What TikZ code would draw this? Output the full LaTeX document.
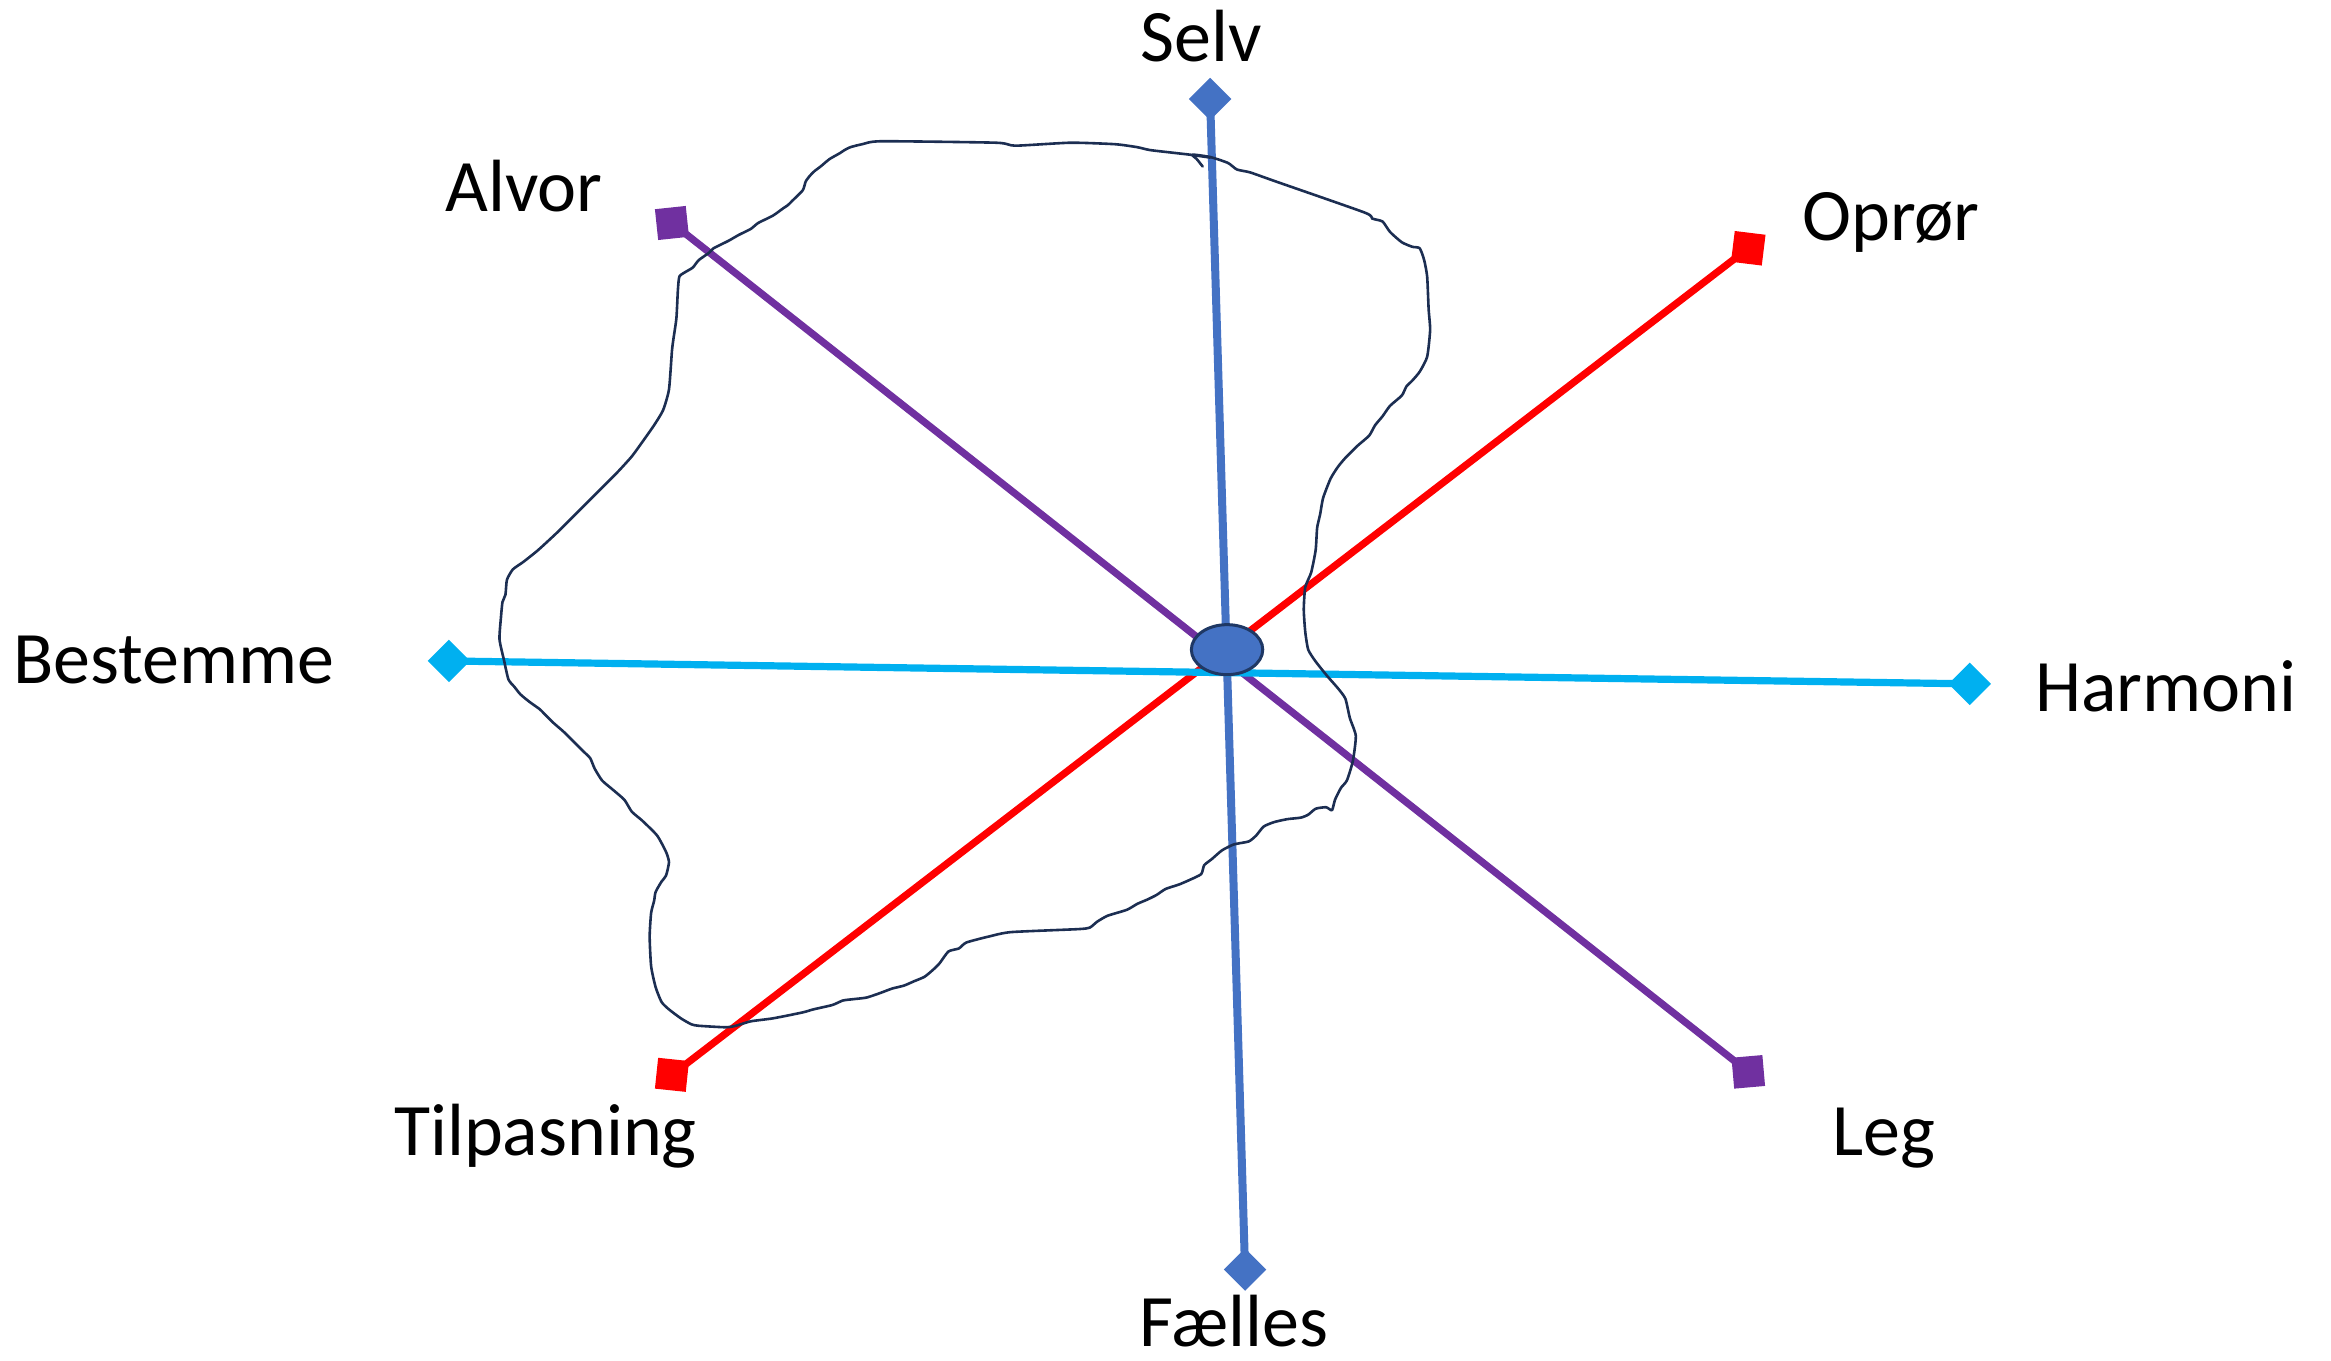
\documentclass[tikz,border=0pt]{standalone}
\usepackage{fontspec}
\setmainfont{Carlito}
\usetikzlibrary{shapes.geometric}
\definecolor{cblue}{HTML}{4472C4}
\definecolor{ccyan}{HTML}{00B0F0}
\definecolor{cred}{HTML}{FF0000}
\definecolor{cpurple}{HTML}{7030A0}
\definecolor{cnavy}{HTML}{1C2E52}
\definecolor{cedge}{HTML}{1F3864}
\tikzset{
  axis/.style={line width=3.6pt},
  sqmark/.style={rectangle, minimum size=15.5pt, inner sep=0pt, fill=#1},
  dmmark/.style={rectangle, minimum size=15pt, inner sep=0pt, rotate=45, fill=#1},
  lbl/.style={anchor=base, font=\fontsize{37}{40}\selectfont, inner sep=0pt},
  scribble/.style={draw=cnavy, line width=1.3pt, line join=round, line cap=round}
}
\begin{document}
\begin{tikzpicture}[x=0.7433pt, y=-0.7433pt]
\useasboundingbox (0,0) rectangle (1568,915);
% end points
\coordinate (selv) at (814,66.6);
\coordinate (faelles) at (837.5,854);
\coordinate (bestemme) at (302,444.6);
\coordinate (harmoni) at (1325,460);
\coordinate (alvor) at (452,150);
\coordinate (leg) at (1176,721);
\coordinate (opror) at (1176,167);
\coordinate (tilpas) at (452,723);
% axes
\draw[axis, cred] (opror) -- (tilpas);
\draw[axis, cpurple] (alvor) -- (leg);
\draw[axis, cblue, line width=4pt] (selv) -- (faelles);
\draw[axis, ccyan] (bestemme) -- (harmoni);
% markers
\node[sqmark=cpurple, rotate=6] (alvorm) at (alvor) {};
\node[sqmark=cpurple, rotate=5] (legm) at (leg) {};
\node[sqmark=cred, rotate=-7] (oprorm) at (opror) {};
\node[sqmark=cred, rotate=-6] (tilpasm) at (tilpas) {};
\node[dmmark=cblue] (selvm) at (selv) {};
\node[dmmark=cblue] (faellesm) at (faelles) {};
\node[dmmark=ccyan] (bestemmem) at (bestemme) {};
\node[dmmark=ccyan] (harmonim) at (harmoni) {};
% centre
\node[ellipse, draw=cedge, line width=1.5pt, fill=cblue, minimum width=35.7pt, minimum height=25pt, inner sep=0pt] (hub) at (825.4,437) {};
% scribble
\draw[scribble] plot[smooth, tension=0.35] coordinates {
(809,112) (805,107) (802,104) (814,105.6) (826,109.6) (832,114) (841,116) (858,122) (918,143) (923,147) (930,149) (935,156) (943,163) (950,166) (955,167) (958,175) (960,186) (961,208) (962,222) (960,240) (955,250) (950,256) (946,260) (943,266) (935,273) (930,280) (925,286) (921,293) (913,300) (905,308) (900,314) (895,322) (890,335) (888,346) (886,355) (885,370) (882,385) (878,395) (877,410) (878,425) (880,437) (885,445) (893,455) (900,463) (905,470) (908,483) (912,495) (910,512) (906,525) (902,530) (898,538) (896,545) (892,543) (885,544) (880,548) (875,550) (866,551) (857,553) (850,556) (845,562) (840,566) (830,568) (822,572) (815,578) (810,582) (808,588) (800,592) (793,595) (784,598) (778,602) (772,605) (765,608) (758,612) (745,616) (738,620) (733,624) (725,625) (680,627) (665,630) (650,634) (645,638) (638,640) (632,648) (628,652) (622,657) (615,660) (608,663) (600,665) (592,668) (583,671) (575,672) (567,673) (560,676) (547,679) (540,681) (520,685) (505,687) (495,690) (488,691) (470,690) (465,689) (458,685) (450,679) (445,674) (441,664) (438,650) (437,630) (438,614) (440,606) (441,600) (445,593) (448,589) (450,580) (448,573) (442,562) (432,552) (425,546) (420,538) (412,531) (405,525) (400,517) (397,510) (392,505) (380,493) (372,486) (366,480) (363,477) (356,472) (350,467) (346,462) (342,457) (339,444) (336,430) (337,415) (338,405) (340,400) (341,390) (345,383) (352,378) (362,370) (375,358) (387,346) (400,333) (415,318) (425,307) (433,296) (440,286) (446,276) (450,262) (452,236) (453,228) (455,214) (456,195) (457,186) (461,183) (466,180) (470,175) (477,170) (480,167) (490,162) (497,158) (505,154) (510,150) (520,145) (527,140) (530,138) (533,135) (540,128) (542,122) (545,118) (548,115) (552,112) (558,107) (565,103) (568,101) (572,99) (580,97) (593,95) (670,96) (683,98) (720,96) (750,97) (765,99) (774,101) (800,104) (814,106)};
% labels
\node[lbl] (tselv) at (808,41.7) {Selv};
\node[lbl] (talvor) at (352.5,142) {Alvor};
\node[lbl] (topror) at (1272,162) {Oprør};
\node[lbl] (tbestemme) at (117,460) {Bestemme};
\node[lbl] (tharmoni) at (1457,478.5) {Harmoni};
\node[lbl] (ttilpas) at (367,777) {Tilpasning};
\node[lbl] (tleg) at (1267,777) {Leg};
\node[lbl] (tfaelles) at (830,906) {Fælles};
\end{tikzpicture}
\end{document}
